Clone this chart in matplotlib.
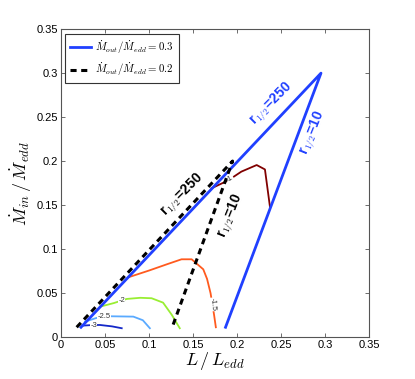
import numpy as np
import matplotlib
matplotlib.use('Agg')
import matplotlib.pyplot as plt

plt.rcParams.update({
    'font.family': 'Liberation Sans', 'font.size': 8,
    'mathtext.fontset': 'cm',
})

# ── Datos ────────────────────────────────────────────────────────────────────
# Mdot_out / Mdot_edd = 0.3 (azul): r_1/2 = 250 y r_1/2 = 10
blue_x = [0.0227, 0.2955, 0.187]
blue_y = [0.011, 0.300, 0.011]
# Mdot_out / Mdot_edd = 0.2 (negro discontinuo)
black_x = [0.0178, 0.195, 0.126]
black_y = [0.011, 0.200, 0.0099]

# Contornos (nivel, color, x, y)
c3_x = [0.0235, 0.035, 0.0443, 0.058, 0.069]
c3_y = [0.0128, 0.0135, 0.0136, 0.012, 0.0099]
c25_x = [0.0273, 0.040, 0.0557, 0.0822, 0.093, 0.101]
c25_y = [0.0174, 0.0215, 0.0235, 0.0231, 0.019, 0.0099]
c2_x = [0.0443, 0.060, 0.0747, 0.090, 0.103, 0.116, 0.126, 0.135]
c2_y = [0.0344, 0.0385, 0.0432, 0.0445, 0.044, 0.039, 0.025, 0.0099]
c15_x = [0.0765, 0.100, 0.120, 0.137, 0.1485, 0.1617, 0.166, 0.170, 0.174, 0.176]
c15_y = [0.0678, 0.0755, 0.0825, 0.0883, 0.0883, 0.0769, 0.066, 0.0497, 0.025, 0.011]
c1_x = [0.171, 0.190, 0.205, 0.2224, 0.2318, 0.2375]
c1_y = [0.169, 0.178, 0.188, 0.1955, 0.1905, 0.148]

contours = [
    ('-3', '#1428c8', c3_x, c3_y, (0.037, 0.0135), 0),
    ('-2.5', '#5aaaff', c25_x, c25_y, (0.049, 0.0228), 0),
    ('-2', '#99ee33', c2_x, c2_y, (0.069, 0.0415), 0),
    ('-1.5', '#ff5a1e', c15_x, c15_y, (0.1728, 0.037), -85),
    ('-1', '#800000', c1_x, c1_y, (0.192, 0.180), 30),
]

fig = plt.figure(figsize=(4.15, 3.79), dpi=100)
ax = fig.add_axes([0.147, 0.111, 0.742, 0.812])

for lbl, col, xs, ys, pos, rot in contours:
    ax.plot(xs, ys, color=col, lw=1.3, zorder=2)
    ax.text(pos[0], pos[1], lbl, fontsize=5.5, color='#333333', rotation=rot,
            ha='center', va='center', zorder=3,
            bbox=dict(facecolor='white', edgecolor='none', pad=0.2))

ax.plot(blue_x, blue_y, color='#2040ff', lw=2,
        label=r'$\dot{M}_{out}/\dot{M}_{edd} = 0.3$', zorder=4)
ax.plot(black_x, black_y, color='black', lw=2.2, ls=(0, (2, 1.5)),
        label=r'$\dot{M}_{out}/\dot{M}_{edd} = 0.2$', zorder=5)

# Etiquetas r_1/2
ax.text(0.240, 0.265, r'r$_{1/2}$=250', color='#2040ff', fontsize=10,
        fontweight='bold', rotation=45, ha='center', va='center')
ax.text(0.287, 0.232, r'r$_{1/2}$=10', color='#2040ff', fontsize=10,
        fontweight='bold', rotation=68, ha='center', va='center')
ax.text(0.1386, 0.161, r'r$_{1/2}$=250', color='black', fontsize=10,
        fontweight='bold', rotation=45, ha='center', va='center')
ax.text(0.194, 0.137, r'r$_{1/2}$=10', color='black', fontsize=10,
        fontweight='bold', rotation=68, ha='center', va='center')

ax.set_xlim(0, 0.35)
ax.set_ylim(0, 0.35)
ticks = [0, 0.05, 0.1, 0.15, 0.2, 0.25, 0.3, 0.35]
ticklabels = ['0', '0.05', '0.1', '0.15', '0.2', '0.25', '0.3', '0.35']
ax.set_xticks(ticks)
ax.set_xticklabels(ticklabels)
ax.set_yticks(ticks)
ax.set_yticklabels(ticklabels)
ax.tick_params(direction='in', top=True, right=True, length=3, width=0.6,
               color='#555555', labelsize=8, pad=2)
for s in ax.spines.values():
    s.set_color('#555555')
    s.set_linewidth(0.8)

ax.set_xlabel(r'$L\,/\,L_{edd}$', fontsize=13, labelpad=0)
ax.set_ylabel(r'$\dot{M}_{in}\,/\,\dot{M}_{edd}$', fontsize=13, labelpad=2)

leg = ax.legend(loc='upper left', fontsize=7.8, handlelength=1.9,
                borderaxespad=0.4, fancybox=False, framealpha=1,
                edgecolor='#333333', handletextpad=0.4, labelspacing=0.45,
                borderpad=0.45)
leg.get_frame().set_linewidth(0.8)

fig.savefig('out.png', dpi=100)
